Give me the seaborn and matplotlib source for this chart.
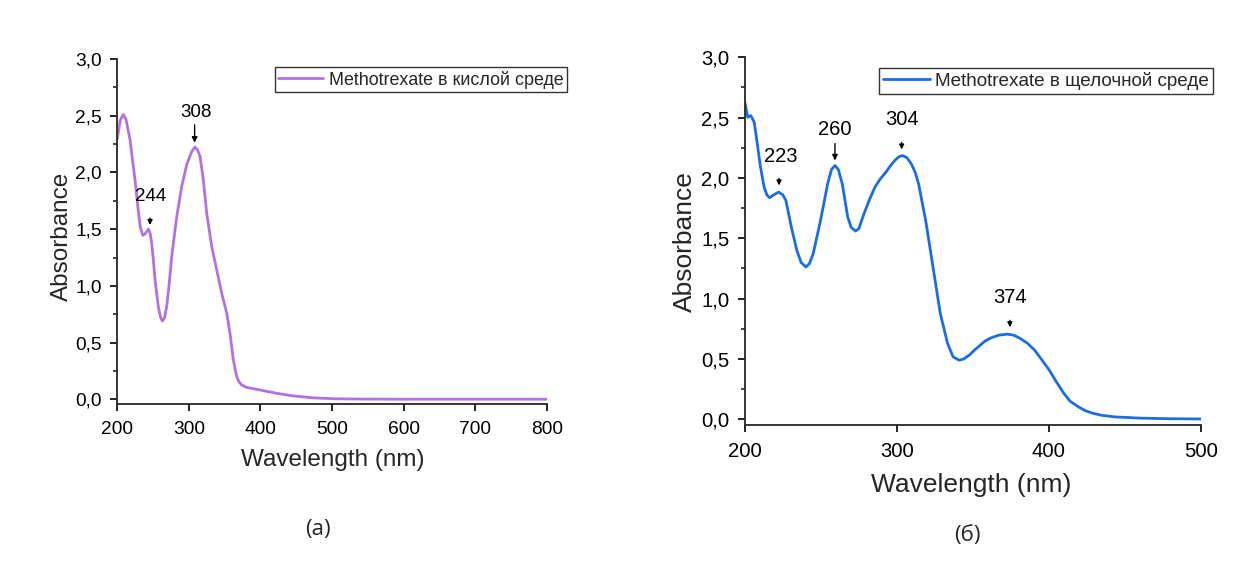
import numpy as np
import pandas as pd
import matplotlib
matplotlib.use("Agg")
import matplotlib.pyplot as plt
import seaborn as sns
from matplotlib.ticker import MultipleLocator, FuncFormatter

# ---- data ----
acid_wl = [200, 204, 208.4, 212, 217.7, 221, 224.7, 229.3, 232, 235.5, 239, 243.4, 246, 248, 250,
           252.7, 257.3, 260, 262.9, 266, 269, 272, 276, 283, 290, 297, 304, 308.6, 312, 315.6,
           320.2, 324.9, 331.9, 338.9, 345.9, 352.9, 357.5, 362.1, 366.8, 370, 373.8, 380.8,
           399.4, 422.7, 445.9, 473.8, 502, 550, 600, 650, 700, 750, 800]
acid_abs = [2.30, 2.46, 2.51, 2.47, 2.29, 2.12, 1.935, 1.66, 1.52, 1.445, 1.46, 1.50, 1.46, 1.377, 1.25,
            1.053, 0.817, 0.73, 0.69, 0.72, 0.82, 0.99, 1.26, 1.61, 1.877, 2.07, 2.185, 2.224, 2.2, 2.14,
            1.935, 1.64, 1.347, 1.141, 0.935, 0.759, 0.58, 0.347, 0.20, 0.155, 0.126, 0.105,
            0.082, 0.053, 0.030, 0.013, 0.005, 0.002, 0.001, 0.001, 0.001, 0.001, 0.001]

alk_wl = [200, 201.9, 203.9, 206.2, 207.9, 210.3, 212.7, 214.5, 216.3, 219, 222.2, 225, 227, 230.6,
          234.2, 237, 240.2, 242.5, 245, 249.8, 254.5, 257, 259.3, 261.5, 264.1, 267.7, 270, 272.9,
          275, 278.4, 282, 285.6, 289, 292.8, 296, 298.7, 301, 303.5, 306.5, 309.5, 312, 314.3, 319,
          323.8, 328.6, 333.4, 337, 341, 344, 347.7, 351, 354.9, 358, 362, 367, 372.8, 377, 381.2,
          386, 390.7, 395, 400.3, 405, 409.9, 414, 419.4, 424, 429, 435, 443.4, 460, 479, 500]
alk_abs = [2.627, 2.503, 2.517, 2.46, 2.31, 2.09, 1.924, 1.86, 1.836, 1.86, 1.883, 1.86, 1.814, 1.593,
           1.40, 1.30, 1.262, 1.29, 1.373, 1.648, 1.952, 2.07, 2.103, 2.07, 1.952, 1.676, 1.59, 1.56,
           1.58, 1.704, 1.82, 1.924, 1.99, 2.048, 2.105, 2.145, 2.172, 2.186, 2.17, 2.117, 2.05, 1.952,
           1.648, 1.262, 0.877, 0.629, 0.518, 0.49, 0.50, 0.532, 0.572, 0.615, 0.648, 0.675, 0.697,
           0.706, 0.697, 0.67, 0.63, 0.573, 0.50, 0.408, 0.31, 0.215, 0.15, 0.104, 0.072, 0.05, 0.033,
           0.020, 0.010, 0.005, 0.003]

acid_label = "Methotrexate в кислой среде"
alk_label = "Methotrexate в щелочной среде"

acid_peaks = [244, 308]
alk_peaks = [223, 260, 304, 374]

# ---- style ----
sns.set_theme(style="ticks")
plt.rcParams["font.family"] = ["Liberation Sans", "DejaVu Sans"]
plt.rcParams["axes.linewidth"] = 1.3

fig = plt.figure(figsize=(12.55, 5.65), dpi=100)
ax1 = fig.add_axes([0.0935, 0.2844, 0.3421, 0.6112])
ax2 = fig.add_axes([0.5935, 0.2478, 0.3633, 0.6508])

df1 = pd.DataFrame({"wl": acid_wl, "A": acid_abs, "s": acid_label})
df2 = pd.DataFrame({"wl": alk_wl, "A": alk_abs, "s": alk_label})

sns.lineplot(data=df1, x="wl", y="A", hue="s", palette=["#B272E2"], lw=2, ax=ax1)
sns.lineplot(data=df2, x="wl", y="A", hue="s", palette=["#1C6DE4"], lw=2, ax=ax2)

comma = FuncFormatter(lambda v, p: f"{v:.1f}".replace(".", ","))

for ax, xl, yl, ts, ls in [(ax1, (200, 800), (-0.044, 3.0), 13.8, 17.5),
                           (ax2, (200, 500), (-0.047, 3.0), 14.6, 19)]:
    ax.set_xlim(*xl)
    ax.set_ylim(*yl)
    ax.spines["top"].set_visible(False)
    ax.spines["right"].set_visible(False)
    ax.xaxis.set_major_locator(MultipleLocator(100))
    ax.yaxis.set_major_locator(MultipleLocator(0.5))
    ax.yaxis.set_minor_locator(MultipleLocator(0.25))
    ax.yaxis.set_major_formatter(comma)
    ax.tick_params(axis="both", which="major", direction="out", length=5, width=1.2,
                   labelsize=ts, colors="black")
    ax.tick_params(axis="y", which="minor", direction="out", length=3, width=1.2)
    ax.tick_params(axis="y", which="major", pad=6)
    ax.tick_params(axis="x", which="major", pad=7)
    ax.set_xlabel("Wavelength (nm)", fontsize=ls)
    ax.set_ylabel("Absorbance", fontsize=ls)
    ax.xaxis.label.set_va("center")
    ax.yaxis.label.set_va("center")

ax1.xaxis.set_label_coords(0.501, -0.161)
ax1.yaxis.set_label_coords(-0.129, 0.487)
ax2.xaxis.set_label_coords(0.497, -0.163)
ax2.yaxis.set_label_coords(-0.131, 0.50)

for ax, anchor, fs in [(ax1, (1.047, 0.977), 12.9), (ax2, (1.027, 0.971), 13.6)]:
    leg = ax.legend(loc="upper right", bbox_to_anchor=anchor, borderaxespad=0,
                    fontsize=fs, frameon=True, fancybox=False, borderpad=0.2,
                    handlelength=2.5, handletextpad=0.3, title=None)
    leg.get_frame().set_edgecolor("black")
    leg.get_frame().set_linewidth(1.0)

arrow_long = dict(arrowstyle="-|>", color="black", lw=1.0, mutation_scale=8, shrinkA=0, shrinkB=0)
arrow_short = dict(arrowstyle="-|>", color="black", lw=1.0, mutation_scale=7, shrinkA=0, shrinkB=0)

# acid panel
kw1 = dict(fontsize=13.5, ha="center", va="center", color="black")
ax1.text(acid_peaks[1] + 2, 2.527, str(acid_peaks[1]), **kw1)
ax1.annotate("", xy=(acid_peaks[1], 2.262), xytext=(acid_peaks[1], 2.42), arrowprops=arrow_long)
ax1.text(acid_peaks[0] + 2.7, 1.785, str(acid_peaks[0]), **kw1)
ax1.annotate("", xy=(acid_peaks[0] + 1.7, 1.537), xytext=(0, 5), textcoords="offset points",
             arrowprops=arrow_short)

# alkaline panel
kw2 = dict(fontsize=14.5, ha="center", va="center", color="black")
ax2.text(alk_peaks[0] + 0.5, 2.178, str(alk_peaks[0]), **kw2)
ax2.annotate("", xy=(alk_peaks[0] - 0.5, 1.938), xytext=(0, 5), textcoords="offset points",
             arrowprops=arrow_short)
ax2.text(alk_peaks[1] - 0.7, 2.399, str(alk_peaks[1]), **kw2)
ax2.annotate("", xy=(alk_peaks[1] - 0.7, 2.145), xytext=(alk_peaks[1] - 0.7, 2.285), arrowprops=arrow_long)
ax2.text(alk_peaks[2] - 0.3, 2.484, str(alk_peaks[2]), **kw2)
ax2.annotate("", xy=(alk_peaks[2] - 0.8, 2.236), xytext=(0, 5), textcoords="offset points",
             arrowprops=arrow_short)
ax2.text(alk_peaks[3] + 0.7, 1.006, str(alk_peaks[3]), **kw2)
ax2.annotate("", xy=(alk_peaks[3] + 0.4, 0.763), xytext=(0, 5), textcoords="offset points",
             arrowprops=arrow_short)

fig.text(0.2534, 0.062, "(a)", fontsize=16, ha="center", va="center", family=["Open Sans", "DejaVu Sans"])
fig.text(0.7705, 0.053, "(б)", fontsize=16, ha="center", va="center", family=["Open Sans", "DejaVu Sans"])

fig.savefig("out.png", dpi=100, facecolor="white")
